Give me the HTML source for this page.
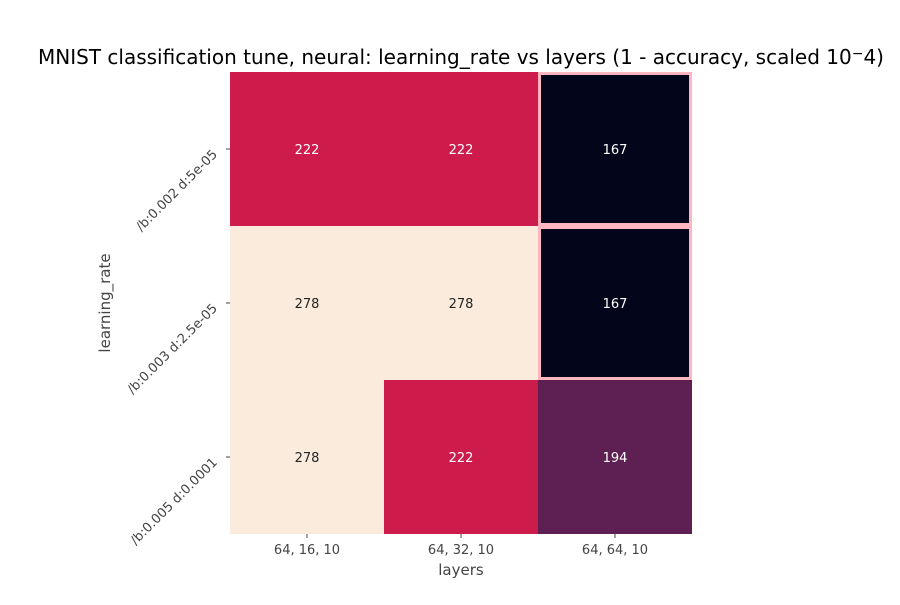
<!DOCTYPE html>
<html><head><meta charset="utf-8"><style>
body{margin:0;background:#fff;}
svg text{font-family:"DejaVu Sans","Liberation Sans",sans-serif;}
</style></head><body>
<svg id="chart" width="900" height="600" viewBox="0 0 900 600">
<text x="461" y="64" font-size="20" text-anchor="middle" fill="#000">MNIST classification tune, neural: learning_rate vs layers (1 - accuracy, scaled 10<tspan dy="-6" font-size="14">−</tspan><tspan dy="6">4)</tspan></text>
<g id="cells"></g>
<g id="xticks"></g>
<g id="yticks"></g>
<text x="461" y="575" font-size="15" text-anchor="middle" fill="#444">layers</text>
<text transform="translate(110,303) rotate(-90)" font-size="15" text-anchor="middle" fill="#444">learning_rate</text>
</svg>
<script>
const xLabels = ["64, 16, 10", "64, 32, 10", "64, 64, 10"];
const yLabels = ["/b:0.002 d:5e-05", "/b:0.003 d:2.5e-05", "/b:0.005 d:0.0001"];
const values = [[222, 222, 167], [278, 278, 167], [278, 222, 194]];
const highlight = [[false, false, true], [false, false, true], [false, false, false]];

const NS = "http://www.w3.org/2000/svg";
const x0 = 230, y0 = 72, cw = 154, ch = 154;
function xPos(i){return x0 + i*cw;}
function yPos(j){return y0 + j*ch;}
const stops = [[0,[3,5,26]],[0.243,[94,31,82]],[0.495,[205,28,76]],[0.75,[243,105,75]],[1,[250,235,221]]];
function color(v){
  const all = values.flat(); const mn = Math.min(...all), mx = Math.max(...all);
  let t = mx===mn?0:(v-mn)/(mx-mn);
  for(let k=1;k<stops.length;k++){
    if(t<=stops[k][0]){const a=stops[k-1],b=stops[k];const f=(t-a[0])/(b[0]-a[0]);
      return "rgb("+a[1].map((c,i)=>Math.round(c+(b[1][i]-c)*f)).join(",")+")";}
  }
  return "rgb(250,235,221)";
}
const cells = document.getElementById("cells");
values.forEach((row,j)=>row.forEach((v,i)=>{
  const r = document.createElementNS(NS,"rect");
  r.setAttribute("x",xPos(i)); r.setAttribute("y",yPos(j));
  r.setAttribute("width",cw); r.setAttribute("height",ch);
  r.setAttribute("fill",color(v));
  
  
  cells.appendChild(r);
  const all = values.flat(); const mn=Math.min(...all), mx=Math.max(...all);
  const t = document.createElementNS(NS,"text");
  t.setAttribute("x",xPos(i)+cw/2); t.setAttribute("y",yPos(j)+ch/2+5);
  t.setAttribute("text-anchor","middle"); t.setAttribute("font-size","13");
  t.setAttribute("fill", (v-mn)/(mx-mn) > 0.7 ? "#262626" : "#fff");
  t.textContent = v;
  
  
  cells.appendChild(t);
}));
highlight.forEach((row,j)=>row.forEach((h,i)=>{
  if(!h) return;
  const b = document.createElementNS(NS,"rect");
  b.setAttribute("x",xPos(i)+1.5); b.setAttribute("y",yPos(j)+1.5);
  b.setAttribute("width",cw-3); b.setAttribute("height",ch-3);
  b.setAttribute("fill","none"); b.setAttribute("stroke","#ffb6c1"); b.setAttribute("stroke-width","3");
  
  
  cells.appendChild(b);
}));
const xt = document.getElementById("xticks");
xLabels.forEach((l,i)=>{
  const x = xPos(i)+cw/2;
  const ln = document.createElementNS(NS,"line");
  ln.setAttribute("x1",x); ln.setAttribute("x2",x); ln.setAttribute("y1",534); ln.setAttribute("y2",538);
  ln.setAttribute("stroke","#444");
  
  
  xt.appendChild(ln);
  const t = document.createElementNS(NS,"text");
  t.setAttribute("x",x); t.setAttribute("y",554); t.setAttribute("text-anchor","middle");
  t.setAttribute("font-size","13"); t.setAttribute("fill","#444"); t.textContent = l;
  
  
  xt.appendChild(t);
});
const yt = document.getElementById("yticks");
yLabels.forEach((l,j)=>{
  const y = yPos(j)+ch/2;
  const ln = document.createElementNS(NS,"line");
  ln.setAttribute("x1",226); ln.setAttribute("x2",230); ln.setAttribute("y1",y); ln.setAttribute("y2",y);
  ln.setAttribute("stroke","#444");
  
  
  yt.appendChild(ln);
  const t = document.createElementNS(NS,"text");
  t.setAttribute("transform","translate(218,"+(y+6)+") rotate(-45)");
  t.setAttribute("text-anchor","end");
  t.setAttribute("font-size","13"); t.setAttribute("fill","#444"); t.textContent = l;
  
  
  yt.appendChild(t);
});
</script>
</body></html>
